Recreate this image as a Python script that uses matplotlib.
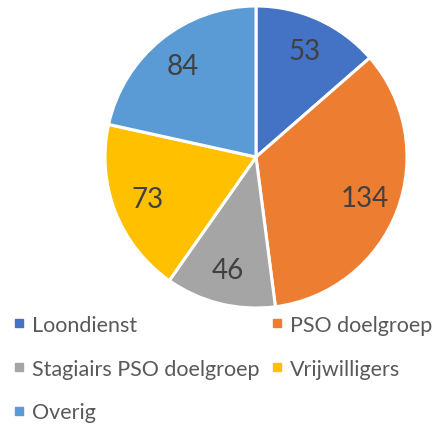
import matplotlib.pyplot as plt
from matplotlib.lines import Line2D

categories = ['Loondienst', 'PSO doelgroep', 'Stagiairs PSO doelgroep', 'Vrijwilligers', 'Overig']
values = [53, 134, 46, 73, 84]
colors = ['#4472C4', '#ED7D31', '#A5A5A5', '#FFC000', '#5B9BD5']

plt.rcParams['font.family'] = ['Lato', 'DejaVu Sans']

W, H = 437, 427
fig = plt.figure(figsize=(W / 100, H / 100), dpi=100)

# pie: center ~ (256, 158) px, radius ~151 px
cx, cy, r = 256, 158, 151
ax = fig.add_axes([(cx - r) / W, (H - cy - r) / H, 2 * r / W, 2 * r / H])
wedges, texts = ax.pie(values, colors=colors, startangle=90, counterclock=False,
                       labels=[str(v) for v in values], labeldistance=0.77,
                       wedgeprops=dict(edgecolor='white', linewidth=2.2),
                       textprops=dict(fontsize=20, color='#404040'))
for t in texts:
    t.set_horizontalalignment('center')
    t.set_verticalalignment('center')
ax.set_xlim(-1.0, 1.0)
ax.set_ylim(-1.0, 1.0)
ax.set_aspect('equal')

# legend, row-major order for 2 columns
handles = [Line2D([], [], marker='s', linestyle='none', markersize=6,
                  markerfacecolor=c, markeredgecolor=c) for c in colors]
order = [0, 2, 4, 1, 3]
leg = fig.legend([handles[i] for i in order], [categories[i] for i in order],
                 ncol=2, loc='upper left', bbox_to_anchor=(13 / W, 1 - 316 / H),
                 frameon=False, fontsize=15.5, handlelength=0.55, handletextpad=0.32,
                 columnspacing=0.55, labelspacing=1.1, borderpad=0, borderaxespad=0)
for t in leg.get_texts():
    t.set_color('#595959')

fig.savefig('out.png', dpi=100)
